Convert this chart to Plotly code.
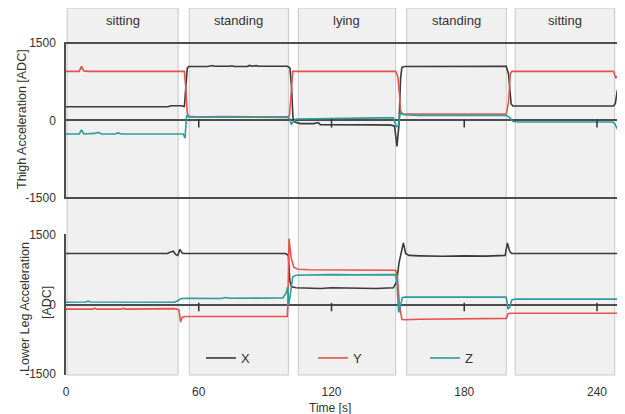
import plotly.graph_objects as go

# ---------------- data ----------------
activity_labels = ["sitting", "standing", "lying", "standing", "sitting"]
activity_start = [0.5, 55.7, 105.0, 154.0, 203.0]
activity_end = [50.7, 100.5, 149.0, 199.0, 248.0]

series_names = ["X", "Y", "Z"]
series_colors = ["#3a3a3a", "#e5534b", "#2e9c9c"]

# Thigh (upper panel)
thigh_x_t = [0, 46, 47.5, 52, 53.5, 54.2, 54.8, 55.5, 62, 64, 66, 67, 74, 75, 76, 82, 83, 84, 86, 87, 100,
             101.2, 102, 102.6, 103.5, 106, 112, 114, 115, 125, 135, 140, 147, 148.5, 149.6, 150.5, 151.2,
             151.8, 153, 175, 199, 200, 201.2, 202, 247.5, 248.3, 249.2, 249.8, 250.5, 251.3]
thigh_x_v = [265, 265, 285, 285, 270, 700, 1010, 1045, 1050, 1045, 1065, 1050, 1050, 1060, 1045, 1048, 1065,
             1050, 1062, 1050, 1050, 1020, 600, 50, -30, -60, -60, -40, -80, -80, -75, -85, -90, -110, -500,
             -80, 800, 1030, 1045, 1050, 1050, 900, 320, 280, 280, 330, 590, 460, 520, 470]

thigh_y_t = [0, 6, 7, 8, 10, 53.5, 54.2, 54.8, 55.5, 60, 70, 80, 90, 100, 101, 101.8, 102.5, 149, 150, 150.7,
             151.3, 152, 175, 199, 200, 200.8, 201.5, 247.5, 248.5, 249.5, 250.5, 251.3]
thigh_y_v = [950, 950, 1050, 960, 950, 950, 600, 150, 80, 65, 75, 70, 65, 70, 90, 500, 950, 950, 850, 500,
             130, 125, 125, 125, 350, 900, 950, 950, 820, 880, 900, 900]

thigh_z_t = [0, 6, 7, 8, 13, 14.5, 16, 22, 23.5, 25, 53, 53.8, 54.5, 55.5, 100, 101, 101.8, 102.8, 104, 120,
             130, 140, 148, 149.3, 150.2, 151.2, 152.5, 160, 199, 200.5, 202, 205, 247, 248, 249, 250, 251.3]
thigh_z_v = [-260, -260, -180, -260, -250, -230, -260, -260, -240, -260, -260, -340, 100, 70, 60, 40, -70,
             -20, 30, 40, 50, 50, 50, -120, -100, 180, 110, 100, 100, 60, -20, -30, -30, -60, -150, -110, -120]

# Lower leg (lower panel)
leg_x_t = [0, 46, 47, 48.5, 49.5, 50.5, 51.5, 52.5, 53.5, 99, 100, 100.5, 101.2, 102, 104, 110, 115, 120, 130,
           140, 148, 149.5, 150.5, 151.5, 152.5, 153.5, 155, 160, 170, 180, 190, 198.5, 199.5, 200.5, 201.5,
           251.3]
leg_x_v = [1100, 1100, 1130, 1150, 1080, 1060, 1190, 1110, 1100, 1100, 1080, 1050, 500, 380, 360, 355, 345,
           360, 350, 345, 360, 500, 900, 1100, 1330, 1100, 1060, 1050, 1040, 1050, 1045, 1060, 1330, 1150,
           1100, 1100]

leg_y_t = [0, 12, 13, 14, 25, 26, 27, 48, 49, 51, 51.8, 52.5, 54, 100, 100.3, 100.8, 101.8, 103, 105, 110,
           149, 149.8, 150.7, 151.8, 152.5, 160, 190, 199, 199.8, 200.6, 251.3]
leg_y_v = [-100, -100, -80, -100, -100, -80, -100, -100, -90, -110, -380, -280, -260, -260, 0, 1420, 1000,
           800, 760, 750, 740, 600, 0, -320, -330, -320, -310, -300, -200, -190, -190]

leg_z_t = [0, 9, 10, 11, 49, 50.5, 52, 55, 70, 72, 74, 98, 99.5, 100.2, 100.7, 101.5, 102.5, 104, 110, 120,
           130, 149, 149.7, 150.3, 151, 152, 153, 199, 199.8, 200.5, 201.5, 203, 251.3]
leg_z_v = [50, 55, 75, 55, 50, 80, 130, 135, 130, 150, 135, 140, 250, 380, 0, 300, 600, 630, 640, 645, 640,
           645, 400, -170, -80, 150, 160, 160, -100, -60, 100, 115, 115]

x_ticks = [0, 60, 120, 180, 240]
y_ticks = [-1500, 0, 1500]
y_ticktext = ["-1500", "0", "1500"]

# ---------------- layout helpers (pixel geometry) ----------------
# The page body has an 8px default margin, so the figure is drawn 8px right/down.
FONT = "Liberation Sans, Arial, sans-serif"
OFF = 8
W, H = 625 - OFF, 414 - OFF
ML, MR = 66 - OFF, 3
PLOT_TOP, PLOT_BOT = 8 - OFF, 375 - OFF
MT, MB = PLOT_TOP, H - PLOT_BOT
PH = PLOT_BOT - PLOT_TOP
PW = W - ML - MR
YPAD = 20  # range padding so that the +/-1500 grid lines are drawn


def py(px):  # page pixel (y) -> paper fraction
    return (PLOT_BOT - (px - OFF)) / PH


def pxf(px):  # page pixel (x) -> paper fraction
    return (px - OFF - ML) / PW


def domain(px_hi, px_lo):
    s = (px_lo - px_hi) / 3000.0
    return [py(px_lo + YPAD * s), py(px_hi - YPAD * s)]


fig = go.Figure()

thigh = [(thigh_x_t, thigh_x_v), (thigh_y_t, thigh_y_v), (thigh_z_t, thigh_z_v)]
leg = [(leg_x_t, leg_x_v), (leg_y_t, leg_y_v), (leg_z_t, leg_z_v)]

for i, (t, v) in enumerate(thigh):
    fig.add_trace(go.Scatter(x=t, y=v, mode="lines", xaxis="x", yaxis="y2",
                             line=dict(color=series_colors[i], width=1.6),
                             showlegend=False, hoverinfo="skip"))
for i, (t, v) in enumerate(leg):
    fig.add_trace(go.Scatter(x=t, y=v, mode="lines", xaxis="x", yaxis="y",
                             name=series_names[i],
                             line=dict(color=series_colors[i], width=1.6),
                             showlegend=True, hoverinfo="skip"))

# small tick marks on the zero lines
tick_x = x_ticks[1:]
for ya in ["y", "y2"]:
    fig.add_trace(go.Scatter(x=tick_x, y=[-55] * len(tick_x), mode="markers", xaxis="x", yaxis=ya,
                             marker=dict(symbol="line-ns", size=6, line=dict(color="#333333", width=1.5)),
                             showlegend=False, hoverinfo="skip"))

# activity rectangles and labels
for lab, s, e in zip(activity_labels, activity_start, activity_end):
    fig.add_shape(type="rect", xref="x", yref="paper", x0=s, x1=e, y0=0, y1=1,
                  fillcolor="#f0f0f0", line=dict(color="#c8c8c8", width=1), layer="below")
    fig.add_annotation(x=(s + e) / 2, y=py(20), xref="x", yref="paper", yanchor="middle",
                       xanchor="center", text=lab, showarrow=False,
                       font=dict(size=13, color="#333333", family=FONT))

# axis titles
fig.add_annotation(x=pxf(22), xref="paper", y=py(119), yref="paper", xanchor="center", yanchor="middle",
                   textangle=-90, text="Thigh Acceleration [ADC]", showarrow=False,
                   font=dict(size=12.5, color="#333333", family=FONT))
fig.add_annotation(x=pxf(25), xref="paper", y=py(307), yref="paper", xanchor="center", yanchor="middle",
                   textangle=-90, text="Lower Leg Acceleration", showarrow=False,
                   font=dict(size=12.5, color="#333333", family=FONT))
fig.add_annotation(x=pxf(47), xref="paper", y=py(303), yref="paper", xanchor="center", yanchor="middle",
                   textangle=-90, text="[ADC]", showarrow=False,
                   font=dict(size=12.5, color="#333333", family=FONT))
fig.add_annotation(x=pxf(330), xref="paper", y=py(407.5), yref="paper", xanchor="center", yanchor="middle",
                   text="Time [s]", showarrow=False,
                   font=dict(size=12, color="#333333", family=FONT))

yax = dict(range=[-1500 - YPAD, 1500 + YPAD], tickvals=y_ticks, ticktext=y_ticktext, showgrid=True,
           gridcolor="#4d4d4d", gridwidth=1.5, zeroline=False, showline=True, linecolor="#4d4d4d",
           linewidth=1.5, ticks="", ticklabelstandoff=6, anchor="x", automargin=False,
           tickfont=dict(size=12, color="#333333", family=FONT))

fig.update_layout(
    width=W, height=H,
    margin=dict(l=ML, r=MR, t=MT, b=MB, pad=0, autoexpand=False),
    paper_bgcolor="white", plot_bgcolor="rgba(0,0,0,0)",
    font=dict(family=FONT, size=12, color="#333333"),
    xaxis=dict(range=[0, 251.3], tickvals=x_ticks, showgrid=False, zeroline=False, showline=False,
               ticks="", anchor="y", ticklabelstandoff=8, automargin=False,
               tickfont=dict(size=12, color="#333333", family=FONT)),
    yaxis=dict(domain=domain(235, 374), **yax),
    yaxis2=dict(domain=domain(43, 198), **yax),
    legend=dict(orientation="h", x=pxf(201), xanchor="left", y=py(358),
                yanchor="middle", bgcolor="rgba(0,0,0,0)", entrywidth=67, entrywidthmode="pixels",
                font=dict(size=13, color="#333333", family=FONT), itemwidth=30),
)

fig.write_html("out.html")
